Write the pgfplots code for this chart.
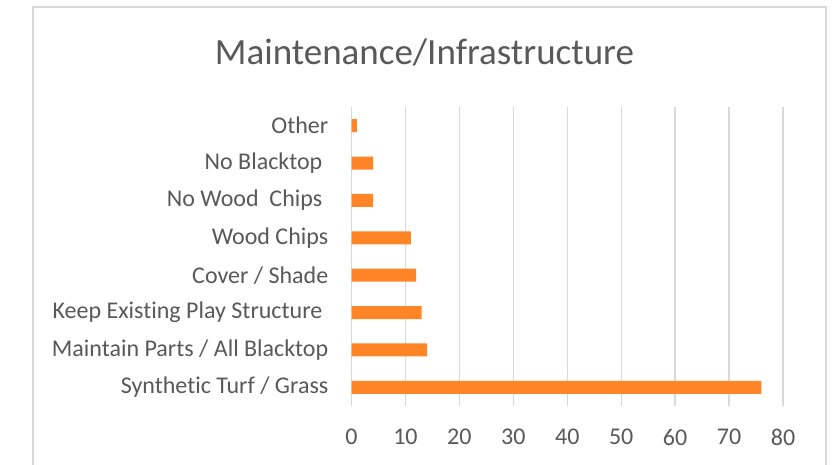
\documentclass[border=0pt]{standalone}
\usepackage{pgfplots}
\pgfplotsset{compat=1.18}
\usepackage{fontspec}
\setmainfont{Carlito}[Ligatures={NoCommon}]
\definecolor{barorange}{RGB}{255,133,38}
\definecolor{gridgray}{RGB}{217,217,217}
\definecolor{textgray}{RGB}{89,89,89}
\begin{document}
\begin{tikzpicture}[x=1pt,y=1pt]
\useasboundingbox (0,0) rectangle (840,465);
\fill[white] (0,0) rectangle (840,465);
\draw[gridgray, line width=1.5pt] (33,-10) rectangle (826,458);
\node[text=textgray, font=\fontsize{37}{44}\selectfont] at (424.5,413) {Maintenance/Infrastructure};
\begin{axis}[
  at={(351.5pt,59pt)}, anchor=south west,
  scale only axis, width=431.5pt, height=299pt,
  xbar, bar width=13pt,
  xmin=0, xmax=80, ymin=-0.5, ymax=7.5,
  xtick={0,10,...,80},
  ytick={0,1,...,7},
  yticklabels={Synthetic Turf / Grass, Maintain Parts / All Blacktop, Keep Existing Play Structure\kern6pt, Cover / Shade, Wood Chips, No Wood\ \ Chips\kern6pt, No Blacktop\kern6pt, Other},
  xmajorgrids,
  major grid style={draw=gridgray, line width=1.3pt},
  axis line style={draw=none},
  major tick length=0pt,
  tick label style={font=\fontsize{24}{28}\selectfont, text=textgray, inner sep=0pt},
  yticklabel style={xshift=-23pt},
  xticklabel style={yshift=-23pt},
  /pgf/number format/assume math mode=true,
  clip=false,
]
\addplot[draw=none, fill=barorange, bar shift=0pt] coordinates {
 (76,0) (14,1) (13,2) (12,3) (11,4) (4,5) (4,6) (1,7)
};
\end{axis}
\end{tikzpicture}
\end{document}
